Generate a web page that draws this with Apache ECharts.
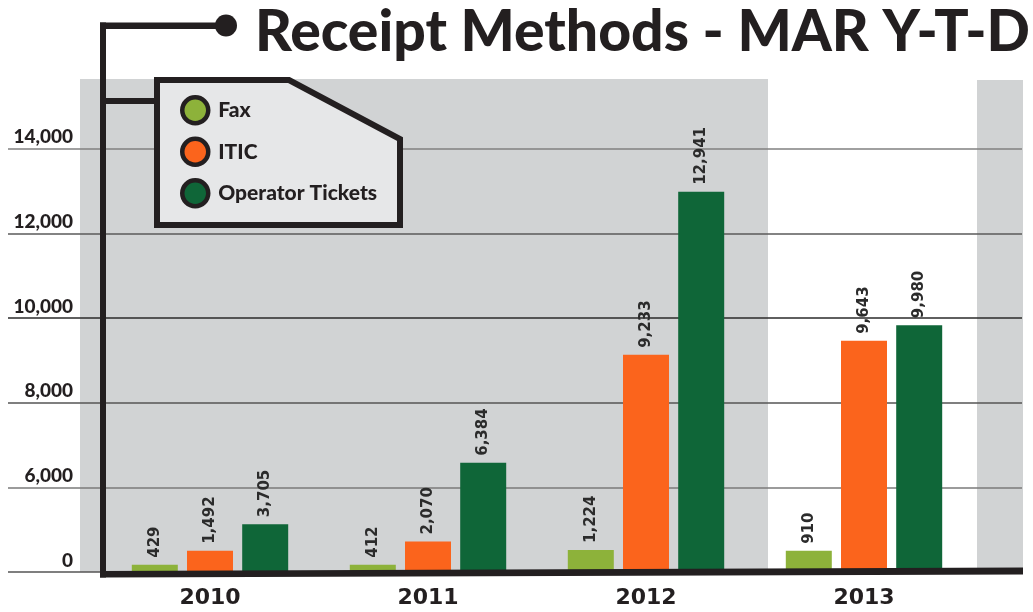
<!DOCTYPE html>
<html>
<head>
<meta charset="utf-8">
<script src="https://cdn.jsdelivr.net/npm/echarts@6/dist/echarts.min.js"></script>
<style>
html,body{margin:0;padding:0;background:#fff;}
#chart{width:1033px;height:612px;}
</style>
</head>
<body>
<div id="chart"></div>
<script>
// ---- data ----
const titleText = 'Receipt Methods - MAR Y-T-D';
const years = ['2010', '2011', '2012', '2013'];
const seriesNames = ['Fax', 'ITIC', 'Operator Tickets'];
// printed values (bar labels)
const faxValues = [429, 412, 1224, 910];
const iticValues = [1492, 2070, 9233, 9643];
const opsValues = [3705, 6384, 12941, 9980];
const faxHeights = [4170, 4170, 4520, 4500];
const iticHeights = [4500, 4720, 9130, 9460];
const opsHeights = [5130, 6580, 12980, 9830];
// tick labels of the value axis (its first tick is relabelled 0)
const yTickLabels = ['0', '6,000', '8,000', '10,000', '12,000', '14,000'];

const colors = ['#8db23a', '#fb641c', '#0f6638'];
const ink = '#231f20';

const chart = echarts.init(document.getElementById('chart'), null, {renderer: 'canvas'});

// title scale to match the condensed heading
const titleFont = '900 57px Lato';
const mctx = document.createElement('canvas').getContext('2d');
mctx.font = titleFont;
const titleScale = 775 / mctx.measureText(titleText).width;

function fmt(v) { return v.toLocaleString('en-US'); }

function barSeries(i, heights, printed) {
  return {
    name: seriesNames[i],
    type: 'bar',
    xAxisIndex: 1,
    yAxisIndex: 1,
    data: heights,
    barWidth: 46,
    barGap: '20%',
    itemStyle: {color: colors[i]},
    z: 5,
    label: {
      show: true,
      position: 'top',
      rotate: 90,
      align: 'left',
      verticalAlign: 'middle',
      distance: 7,
      fontFamily: 'DejaVu Sans',
      fontWeight: 'bold',
      fontSize: 15,
      color: '#2b2b2b',
      formatter: p => fmt(printed[p.dataIndex])
    }
  };
}

const option = {
  animation: false,
  backgroundColor: '#ffffff',
  grid: [
    {left: 8, right: 11, top: 148.7, bottom: 40},
    {left: 101, right: 60, top: 64, bottom: 40}
  ],
  xAxis: [
    {gridIndex: 0, type: 'category', data: years, show: false},
    {
      gridIndex: 1, type: 'category', data: years,
      axisLine: {show: false}, axisTick: {show: false},
      axisLabel: {
        margin: 15, fontFamily: 'DejaVu Sans', fontWeight: 'bold',
        fontSize: 22, color: ink
      }
    }
  ],
  yAxis: [
    {
      gridIndex: 0, type: 'value', min: 4000, max: 14000, interval: 2000,
      axisLine: {show: false}, axisTick: {show: false},
      axisLabel: {
        inside: true, margin: 65, align: 'right', verticalAlign: 'bottom',
        padding: [0, 0, 2, 0],
        fontFamily: 'Lato', fontWeight: 900, fontSize: 19, color: ink,
        formatter: (v, i) => yTickLabels[i]
      },
      splitLine: {
        show: true,
        lineStyle: {color: ['#555555', '#7a7a7a', '#555555', '#2a2a2a', '#5a5a5a', '#808080'], width: 1.6}
      }
    },
    {
      gridIndex: 1, type: 'value', min: 4000, max: 16000, interval: 2000,
      show: false, splitLine: {show: false}
    }
  ],
  legend: {
    data: seriesNames,
    orient: 'vertical',
    left: 180,
    top: 95,
    padding: 0,
    itemWidth: 26,
    itemHeight: 26,
    itemGap: 11,
    icon: 'circle',
    z: 120,
    itemStyle: {borderColor: ink, borderWidth: 4.5},
    textStyle: {
      fontFamily: 'Lato', fontWeight: 900, fontSize: 21, color: ink,
      padding: [0, 0, 0, 5]
    },
    selectedMode: false
  },
  series: [
    barSeries(0, faxHeights, faxValues),
    barSeries(1, iticHeights, iticValues),
    barSeries(2, opsHeights, opsValues)
  ],
  graphic: {
    elements: [
      // grey panels
      {type: 'rect', z: -10, shape: {x: 80, y: 79, width: 688, height: 493}, style: {fill: '#d1d3d4'}},
      {type: 'rect', z: -10, shape: {x: 977, y: 80, width: 46, height: 492}, style: {fill: '#d1d3d4'}},
      // legend box
      {
        type: 'polygon', z: 100,
        shape: {points: [[157, 80], [289, 80], [400, 139], [400, 225], [157, 225]]},
        style: {fill: '#e6e7e8', stroke: ink, lineWidth: 6, lineJoin: 'miter'}
      },
      // bracket lines
      {type: 'rect', z: 101, shape: {x: 100, y: 22.5, width: 6, height: 555}, style: {fill: ink}},
      {type: 'rect', z: 101, shape: {x: 100, y: 22.5, width: 125, height: 6.5}, style: {fill: ink}},
      {type: 'circle', z: 101, shape: {cx: 226, cy: 25.5, r: 11}, style: {fill: ink}},
      {type: 'rect', z: 101, shape: {x: 100, y: 98, width: 56, height: 6}, style: {fill: ink}},
      // base line
      {
        type: 'polygon', z: 101,
        shape: {points: [[100, 571], [1023, 567.5], [1023, 574.5], [100, 577.5]]},
        style: {fill: ink}
      },
      // title
      {
        type: 'text', z: 101, x: 255, y: 33, scaleX: titleScale,
        style: {text: titleText, font: titleFont, fill: ink, align: 'left', verticalAlign: 'middle'}
      }
    ]
  }
};
chart.setOption(option);
</script>
</body>
</html>
